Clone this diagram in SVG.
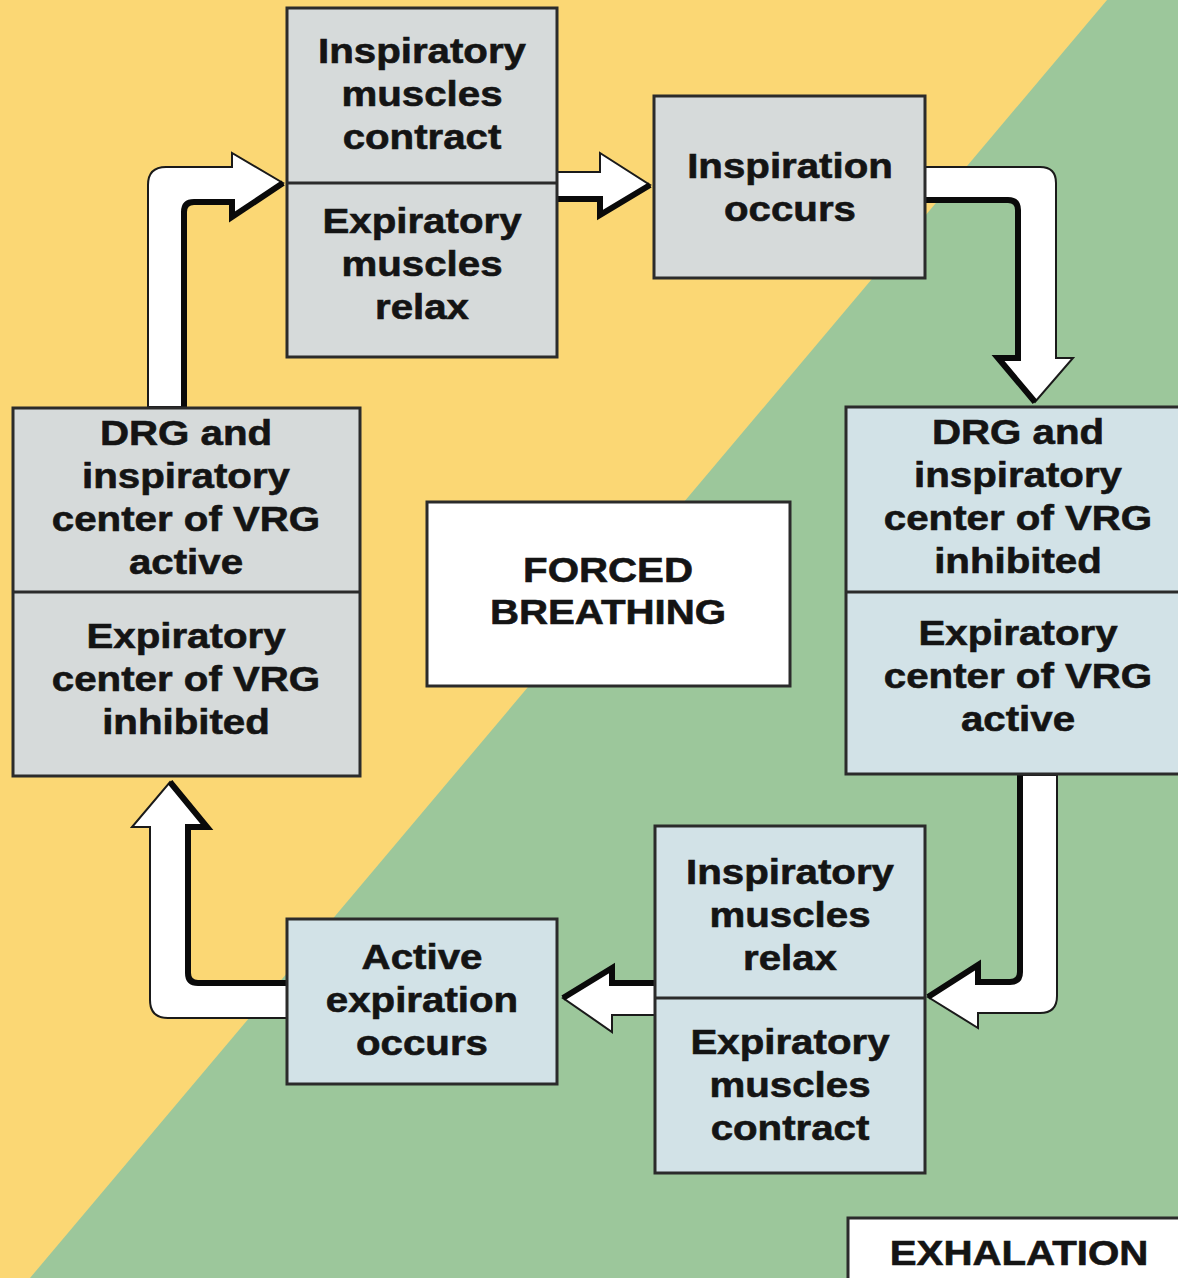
<svg xmlns="http://www.w3.org/2000/svg" width="1178" height="1278" viewBox="0 0 1178 1278">
<style>
.box{stroke:#2b2b2b;stroke-width:3}
.gray{fill:#d6dada}
.blue{fill:#d2e2e7}
.white{fill:#ffffff}
.div{stroke:#2b2b2b;stroke-width:3}
.t{font-family:"Liberation Sans",Arial,sans-serif;font-weight:bold;font-size:35px;fill:#141414;stroke:#141414;stroke-width:0.6;text-anchor:middle}
.arr{fill:#ffffff;stroke:#1a1a1a;stroke-width:2;stroke-linejoin:miter}
.sh{fill:none;stroke:#0a0a0a;stroke-width:6;stroke-linejoin:miter;stroke-linecap:butt}
</style>
<rect x="0" y="0" width="1178" height="1278" fill="#9cc79b"/>
<polygon points="0,0 1107,0 30,1278 0,1278" fill="#fbd774"/>

<g id="connectors">
  <g id="a1">
    <path class="arr" d="M148,407 L148,185 Q148,167 166,167 L232,167 L232,153 L283,183 L232,217 L232,202 L194,202 Q184,202 184,212 L184,407 Z"/>
    <path class="sh" d="M184,407 L184,212 Q184,202 194,202 L232,202 L232,217 L283,183"/>
  </g>
  <g id="a2">
    <path class="arr" d="M557,172 L600,172 L600,153 L650,185 L600,215 L600,199 L557,199 Z"/>
    <path class="sh" d="M557,199 L600,199 L600,215 L650,185"/>
  </g>
  <g id="a3">
    <path class="arr" d="M925,167 L1040,167 Q1056,167 1056,183 L1056,358 L1073,358 L1035,402 L998,358 L1018,358 L1018,210 Q1018,200 1008,200 L925,200 Z"/>
    <path class="sh" d="M925,200 L1008,200 Q1018,200 1018,210 L1018,358 L998,358 L1035,402"/>
  </g>
  <g id="a4">
    <path class="arr" d="M1020,775 L1020,972 Q1020,982 1010,982 L978,982 L978,965 L928,997 L978,1028 L978,1013 L1040,1013 Q1057,1013 1057,996 L1057,775 Z"/>
    <path class="sh" d="M1020,775 L1020,972 Q1020,982 1010,982 L978,982 L978,965 L928,997"/>
  </g>
  <g id="a5">
    <path class="arr" d="M655,983 L612,983 L612,968 L563,998 L612,1032 L612,1015 L655,1015 Z"/>
    <path class="sh" d="M655,983 L612,983 L612,968 L563,998"/>
  </g>
  <g id="a6">
    <path class="arr" d="M287,983 L198,983 Q188,983 188,973 L188,827 L207,827 L170,782 L132,827 L150,827 L150,1000 Q150,1018 168,1018 L287,1018 Z"/>
    <path class="sh" d="M287,983 L198,983 Q188,983 188,973 L188,827 L207,827 L170,782"/>
  </g>
</g>

<g id="n-muscles-top">
  <rect class="box gray" x="287" y="8" width="270" height="349"/>
  <line class="div" x1="287" y1="183" x2="557" y2="183"/>
  <g transform="translate(422,0) scale(1.15,1)">
    <text class="t" x="0" y="63">Inspiratory</text>
    <text class="t" x="0" y="106">muscles</text>
    <text class="t" x="0" y="149">contract</text>
    <text class="t" x="0" y="233">Expiratory</text>
    <text class="t" x="0" y="276">muscles</text>
    <text class="t" x="0" y="319">relax</text>
  </g>
</g>

<g id="n-inspiration">
  <rect class="box gray" x="654" y="96" width="271" height="182"/>
  <g transform="translate(790,0) scale(1.15,1)">
    <text class="t" x="0" y="178">Inspiration</text>
    <text class="t" x="0" y="221">occurs</text>
  </g>
</g>

<g id="n-left">
  <rect class="box gray" x="13" y="408" width="347" height="368"/>
  <line class="div" x1="13" y1="592" x2="360" y2="592"/>
  <g transform="translate(186,0) scale(1.15,1)">
    <text class="t" x="0" y="445">DRG and</text>
    <text class="t" x="0" y="488">inspiratory</text>
    <text class="t" x="0" y="531">center of VRG</text>
    <text class="t" x="0" y="574">active</text>
    <text class="t" x="0" y="648">Expiratory</text>
    <text class="t" x="0" y="691">center of VRG</text>
    <text class="t" x="0" y="734">inhibited</text>
  </g>
</g>

<g id="n-right">
  <rect class="box blue" x="846" y="407" width="340" height="367"/>
  <line class="div" x1="846" y1="592" x2="1178" y2="592"/>
  <g transform="translate(1018,0) scale(1.15,1)">
    <text class="t" x="0" y="444">DRG and</text>
    <text class="t" x="0" y="487">inspiratory</text>
    <text class="t" x="0" y="530">center of VRG</text>
    <text class="t" x="0" y="573">inhibited</text>
    <text class="t" x="0" y="645">Expiratory</text>
    <text class="t" x="0" y="688">center of VRG</text>
    <text class="t" x="0" y="731">active</text>
  </g>
</g>

<g id="n-center">
  <rect class="box white" x="427" y="502" width="363" height="184"/>
  <g transform="translate(608,0) scale(1.15,1)">
    <text class="t" x="0" y="582">FORCED</text>
    <text class="t" x="0" y="624">BREATHING</text>
  </g>
</g>

<g id="n-muscles-bottom">
  <rect class="box blue" x="655" y="826" width="270" height="347"/>
  <line class="div" x1="655" y1="998" x2="925" y2="998"/>
  <g transform="translate(790,0) scale(1.15,1)">
    <text class="t" x="0" y="884">Inspiratory</text>
    <text class="t" x="0" y="927">muscles</text>
    <text class="t" x="0" y="970">relax</text>
    <text class="t" x="0" y="1054">Expiratory</text>
    <text class="t" x="0" y="1097">muscles</text>
    <text class="t" x="0" y="1140">contract</text>
  </g>
</g>

<g id="n-expiration">
  <rect class="box blue" x="287" y="919" width="270" height="165"/>
  <g transform="translate(422,0) scale(1.15,1)">
    <text class="t" x="0" y="969">Active</text>
    <text class="t" x="0" y="1012">expiration</text>
    <text class="t" x="0" y="1055">occurs</text>
  </g>
</g>

<g id="n-exhalation">
  <rect class="box white" x="848" y="1218" width="340" height="80"/>
  <g transform="translate(1019,0) scale(1.15,1)">
    <text class="t" x="0" y="1265">EXHALATION</text>
  </g>
</g>
</svg>
